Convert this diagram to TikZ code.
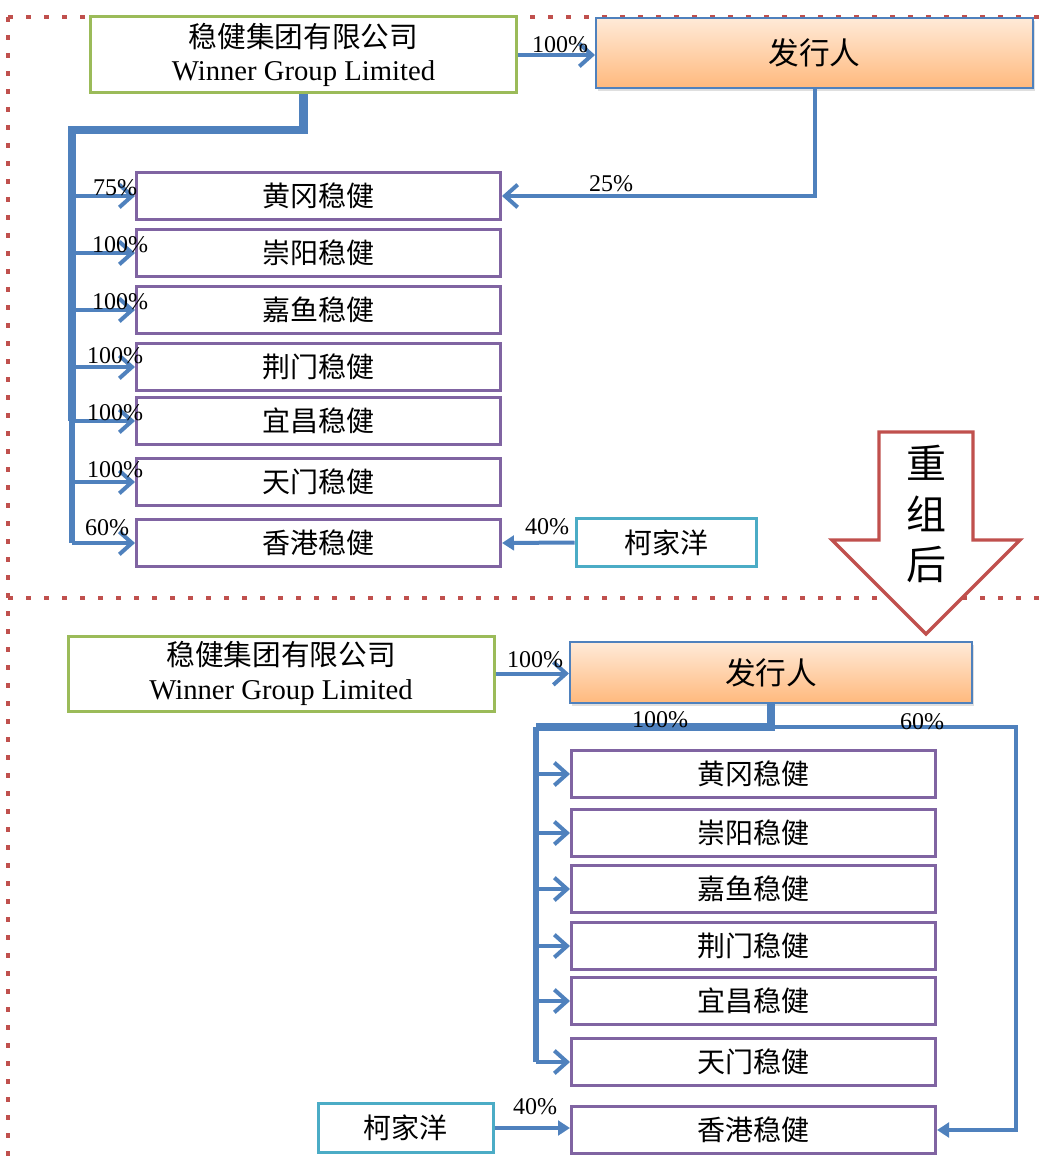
\documentclass[tikz,border=0pt]{standalone}
\usepackage{fontspec}
\setmainfont{Liberation Serif}
\newfontfamily\cjk{Noto Sans CJK SC}
\usetikzlibrary{arrows.meta,shadows}
\definecolor{lineblue}{HTML}{4F81BD}
\definecolor{boxpurple}{HTML}{8064A2}
\definecolor{boxgreen}{HTML}{9BBB59}
\definecolor{boxteal}{HTML}{4BACC6}
\definecolor{framered}{HTML}{C0504D}
\definecolor{issuertop}{HTML}{FFEAD8}
\definecolor{issuerbot}{HTML}{FFB97D}
\begin{document}
\begin{tikzpicture}[x=0.75pt,y=-0.75pt,
    plainbox/.style={draw,line width=2.25pt,fill=white,inner sep=0pt,align=center,text=black},
    winbox/.style={plainbox,draw=boxgreen,font=\fontsize{21.5}{25}\selectfont},
    subbox/.style={plainbox,draw=boxpurple,minimum width=273pt,minimum height=35.5pt,font=\cjk\fontsize{21}{24}\selectfont},
    kebox/.style={plainbox,draw=boxteal,minimum height=36.5pt,font=\cjk\fontsize{21}{24}\selectfont},
    issbox/.style={draw=lineblue,line width=1.5pt,top color=issuertop,bottom color=issuerbot,inner sep=0pt,
      font=\cjk\fontsize{23}{26}\selectfont,drop shadow={opacity=0.25,shadow xshift=1.5pt,shadow yshift=-2pt}},
    pct/.style={font=\fontsize{18}{20}\selectfont,inner sep=0pt},
    conn/.style={draw=lineblue,line width=3pt,-{Straight Barb[length=9.5pt,width=17pt]}},
    connf/.style={draw=lineblue,line width=3pt,-{Triangle[length=9pt,width=11pt]}},
    trunk/.style={draw=lineblue,line width=6.5pt},
    framedots/.style={draw=framered,line width=3pt,dash pattern=on 3.5pt off 10pt}]
  \useasboundingbox (0,0) rectangle (1043,1169);

  % frame
  \draw[framedots] (8,17) -- (1040,17);
  \draw[framedots] (8,17) -- (8,1162);
  \draw[framedots] (8,598) -- (1040,598);

  % before
  \path (303.5,55) node [winbox,minimum width=320pt,minimum height=57pt] (win1) {{\cjk 稳健集团有限公司}\\Winner Group Limited};
  \path (814.5,53) node [issbox,minimum width=327.75pt,minimum height=52.5pt] (iss1) {发行人};
  \foreach \n/\y/\t in {s1a/196/黄冈稳健,s1b/253/崇阳稳健,s1c/310/嘉鱼稳健,s1d/367/荆门稳健,s1e/421/宜昌稳健,s1f/482/天门稳健,s1g/543/香港稳健}
    \path (318.5,\y) node [subbox] (\n) {\t};
  \path (666,542.5) node [kebox,minimum width=135pt] (ke1) {柯家洋};

  \coordinate (tk1) at (72,130);
  \coordinate (tk2) at (72,421);
  \coordinate (tk3) at (72,543);
  \draw[trunk] (win1.south) |- (tk1) -- (tk2);
  \draw[draw=lineblue,line width=4pt] (tk2) -- (tk3);
  \foreach \n in {s1a,s1b,s1c,s1d,s1e,s1f,s1g}
    \draw[conn] (tk1 |- \n.west) -- (\n.west);
  \draw[conn] (win1.east) -- (win1.east -| iss1.west);
  \draw[conn] (iss1.south) |- (s1a.east);
  \draw[connf] (ke1.west) -- (s1g.east);

  \foreach \n/\x/\y/\t in {p1a/115/188/75,p1b/120/245/100,p1c/120/302/100,p1d/115/356/100,p1e/115/413/100,p1f/115/470/100,p1g/107/528/60}
    \path (\x,\y) node [pct] (\n) {\t\%};
  \path (560,45) node [pct] (p1w) {100\%};
  \path (611,184) node [pct] (p1i) {25\%};
  \path (547,527) node [pct] (p1k) {40\%};

  % turn arrow
  \draw[framered,line width=2.5pt,fill=white,line join=miter] (879,432) -- (973,432) -- (973,540) -- (1020,540)
    -- (926,634) -- (832,540) -- (879,540) -- cycle;
  \path (926,514) node [font=\cjk\fontsize{30}{38}\selectfont,align=center,inner sep=0pt] (turn) {重\\组\\后};

  % after
  \path (281,673.5) node [winbox,minimum width=319.5pt,minimum height=56.25pt] (win2) {{\cjk 稳健集团有限公司}\\Winner Group Limited};
  \path (771,672.5) node [issbox,minimum width=301.5pt,minimum height=45.75pt] (iss2) {发行人};
  \foreach \n/\y/\t in {s2a/774/黄冈稳健,s2b/833/崇阳稳健,s2c/889/嘉鱼稳健,s2d/946/荆门稳健,s2e/1001/宜昌稳健,s2f/1062/天门稳健,s2g/1130/香港稳健}
    \path (753.5,\y) node [subbox] (\n) {\t};
  \path (405.5,1128) node [kebox,minimum width=131.25pt] (ke2) {柯家洋};

  \coordinate (bk1) at (536,727);
  \coordinate (bk2) at (536,1062);
  \coordinate (bk3) at (1016,727);
  \draw[trunk] (iss2.south) |- (bk1);
  \draw[draw=lineblue,line width=4.5pt] (bk1) -- (bk2);
  \foreach \n in {s2a,s2b,s2c,s2d,s2e,s2f}
    \draw[conn] (bk1 |- \n.west) -- (\n.west);
  \draw[connf] (iss2.south |- bk1) -- (bk3) |- (s2g.east);
  \draw[conn] (win2.east) -- (win2.east -| iss2.west);
  \draw[connf] (ke2.east) -- (ke2.east -| s2g.west);

  \path (535,660) node [pct] (p2w) {100\%};
  \path (660,720) node [pct] (p2a) {100\%};
  \path (922,722) node [pct] (p2g) {60\%};
  \path (535,1107) node [pct] (p2k) {40\%};
\end{tikzpicture}
\end{document}
